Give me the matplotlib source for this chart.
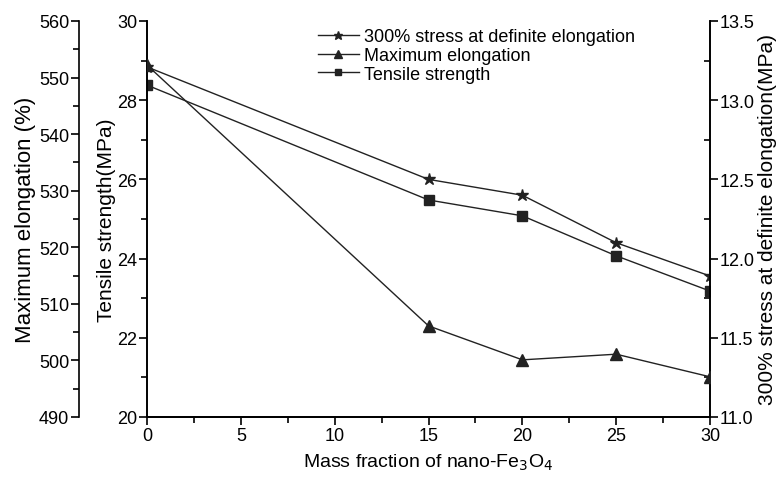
import matplotlib.pyplot as plt
from matplotlib.ticker import MultipleLocator, FormatStrFormatter

plt.rcParams['font.family'] = ['Liberation Sans', 'DejaVu Sans']

# data
mass_fraction = [0, 15, 20, 25, 30]
tensile = [28.38, 25.48, 25.08, 24.07, 23.18]
stress_300 = [13.21, 12.50, 12.40, 12.10, 11.89]
max_elong = [552.2, 506.1, 500.1, 501.1, 497.1]

fig = plt.figure(figsize=(7.8, 4.81), dpi=100)
ax = fig.add_axes([0.1885, 0.131, 0.7218, 0.8233])
ax_r = ax.twinx()
ax_e = ax.twinx()

lc = '#222222'
l1, = ax_r.plot(mass_fraction, stress_300, color=lc, lw=1, marker='*', ms=9,
                label='300% stress at definite elongation')
l2, = ax_e.plot(mass_fraction, max_elong, color=lc, lw=1, marker='^', ms=8,
                label='Maximum elongation')
l3, = ax.plot(mass_fraction, tensile, color=lc, lw=1, marker='s', ms=7,
              label='Tensile strength')

# main (tensile) axis
ax.set_xlim(0, 30)
ax.set_ylim(20, 30)
ax.xaxis.set_major_locator(MultipleLocator(5))
ax.xaxis.set_minor_locator(MultipleLocator(2.5))
ax.yaxis.set_major_locator(MultipleLocator(2))
ax.yaxis.set_minor_locator(MultipleLocator(1))
ax.tick_params(which='both', direction='out', labelsize=13, width=1.2, pad=1)
ax.tick_params(which='major', length=6)
ax.tick_params(which='minor', length=4)
ax.set_ylabel('Tensile strength(MPa)', fontsize=15, labelpad=1)
ax.set_xlabel('Mass fraction of nano-Fe$_3$O$_4$', fontsize=14, labelpad=6)
ax.spines['top'].set_visible(False)

# right axis
ax_r.set_ylim(11.0, 13.5)
ax_r.yaxis.set_major_locator(MultipleLocator(0.5))
ax_r.yaxis.set_minor_locator(MultipleLocator(0.25))
ax_r.yaxis.set_major_formatter(FormatStrFormatter('%.1f'))
ax_r.tick_params(which='major', direction='out', length=6, width=1.2, labelsize=13, pad=1)
ax_r.tick_params(which='minor', direction='in', length=4, width=1.2)
ax_r.set_ylabel('300% stress at definite elongation(MPa)', fontsize=15, labelpad=2)
ax_r.spines['top'].set_visible(False)

# outer left axis
ax_e.set_ylim(490, 560)
ax_e.spines['left'].set_position(('outward', 49))
ax_e.spines['left'].set_visible(True)
ax_e.spines['right'].set_visible(False)
ax_e.spines['top'].set_visible(False)
ax_e.yaxis.set_ticks_position('left')
ax_e.yaxis.set_label_position('left')
ax_e.yaxis.set_major_locator(MultipleLocator(10))
ax_e.yaxis.set_minor_locator(MultipleLocator(5))
ax_e.tick_params(which='both', direction='out', labelsize=13, width=1.2, pad=1)
ax_e.tick_params(which='major', length=6)
ax_e.tick_params(which='minor', length=4)
ax_e.set_ylabel('Maximum elongation (%)', fontsize=16, labelpad=2)

for a in (ax, ax_r, ax_e):
    for s in a.spines.values():
        s.set_linewidth(1.2)

ax.legend(handles=[l1, l2, l3], loc='upper left', bbox_to_anchor=(0.29, 1.0),
          frameon=False, fontsize=13, handlelength=2.3, labelspacing=0.1,
          handletextpad=0.3, borderaxespad=0, markerscale=0.7)

fig.savefig('out.png', dpi=100)
